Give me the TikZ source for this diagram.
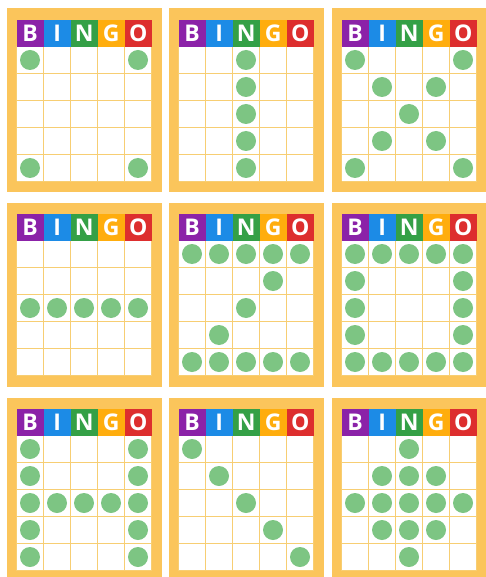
\documentclass[tikz,border=0pt]{standalone}
\usepackage{fontspec}
\setsansfont{Open Sans}
\definecolor{cardyellow}{HTML}{FBC55B}
\definecolor{lineyellow}{HTML}{F7CE73}
\definecolor{bpurple}{HTML}{8B22A8}
\definecolor{iblue}{HTML}{1C8BE6}
\definecolor{ngreen}{HTML}{34A046}
\definecolor{gamber}{HTML}{FFAD0D}
\definecolor{ored}{HTML}{DD2E2E}
\definecolor{dotgreen}{HTML}{7DC583}

\begin{document}
\begin{tikzpicture}[
  x=1pt, y=-1pt,
  card/.style={fill=cardyellow},
  gridline/.style={draw=lineyellow, line width=1.6pt},
  head/.style={minimum size=27pt, inner sep=0pt, anchor=north west,
               text=white, font=\sffamily\bfseries\fontsize{23}{23}\selectfont},
  dotmark/.style={fill=dotgreen},
]
\useasboundingbox (0,0) rectangle (485,577);
% ---------------- cards: grid corner x / y / marked cells (col/row) -----------------
\foreach \gx/\gy/\marks [count=\k] in {
  16.5/19.5/{1/1,5/1,1/5,5/5},
  178.5/19.5/{3/1,3/2,3/3,3/4,3/5},
  341.5/19.5/{1/1,5/1,2/2,4/2,3/3,2/4,4/4,1/5,5/5},
  16.5/213.5/{1/3,2/3,3/3,4/3,5/3},
  178.5/213.5/{1/1,2/1,3/1,4/1,5/1,4/2,3/3,2/4,1/5,2/5,3/5,4/5,5/5},
  341.5/213.5/{1/1,2/1,3/1,4/1,5/1,1/2,5/2,1/3,5/3,1/4,5/4,1/5,2/5,3/5,4/5,5/5},
  16.5/408.5/{1/1,5/1,1/2,5/2,1/3,2/3,3/3,4/3,5/3,1/4,5/4,1/5,5/5},
  178.5/408.5/{1/1,2/2,3/3,4/4,5/5},
  341.5/408.5/{3/1,2/2,3/2,4/2,1/3,2/3,3/3,4/3,5/3,2/4,3/4,4/4,3/5}} {
  % frame and white field
  \fill[card] ({\gx-10},{\gy-11}) rectangle ({\gx+145},{\gy+173});
  \fill[white] (\gx,{\gy+27}) rectangle ({\gx+135},{\gy+162});
  \foreach \j in {0,...,5} {
    \draw[gridline] (\gx,{\gy+27+27*\j}) -- ({\gx+135},{\gy+27+27*\j});
    \draw[gridline] ({\gx+27*\j},{\gy+27}) -- ({\gx+27*\j},{\gy+162});
  }
  % header
  \foreach \l/\col [count=\i] in {B/bpurple,I/iblue,N/ngreen,G/gamber,O/ored}
    \node[head, fill=\col] (card\k-\l) at ({\gx+27*(\i-1)},\gy) {\l};
  % marked cells
  \foreach \c/\r in \marks
    \fill[dotmark] ({\gx+27*\c-13.5},{\gy+27+27*\r-13.5}) circle[radius=10pt];
}
\end{tikzpicture}
\end{document}
